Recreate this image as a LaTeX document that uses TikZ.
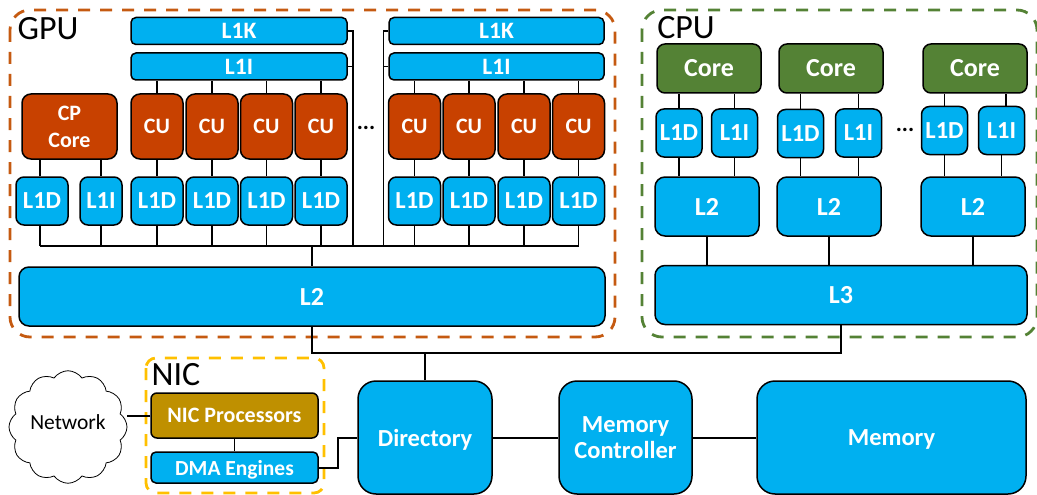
\documentclass[tikz,border=0pt]{standalone}
\usepackage{fontspec}
\setmainfont{Carlito}
\usepackage{tikz}
\usetikzlibrary{shapes.symbols}

\definecolor{cacheblue}{HTML}{00B0F0}
\definecolor{gpured}{HTML}{C84100}
\definecolor{gpuline}{HTML}{C55A11}
\definecolor{cpugreen}{HTML}{548235}
\definecolor{nicgold}{HTML}{BF9000}
\definecolor{nicline}{HTML}{FFC000}

\tikzset{
  unit/.style={draw=black,line width=1.5pt,text=white,inner sep=0pt,font=\bfseries,align=center},
  cache/.style={unit,fill=cacheblue},
  wide/.style={cache,rounded corners=5pt,minimum height=27pt,font=\bfseries\fontsize{23.5}{24}\selectfont},
  small/.style={cache,rounded corners=8pt,minimum height=48pt,font=\bfseries\fontsize{24.5}{26}\selectfont},
  level/.style={cache,rounded corners=10pt,minimum height=59pt,font=\bfseries\fontsize{26}{27}\selectfont},
  big/.style={cache,rounded corners=18pt,minimum height=113pt,text depth=0pt,font=\bfseries\fontsize{24.5}{26}\selectfont},
  cu/.style={unit,fill=gpured,rounded corners=9pt,minimum width=52pt,minimum height=65pt,font=\bfseries\fontsize{22}{27}\selectfont},
  core/.style={unit,fill=cpugreen,rounded corners=8pt,minimum width=104pt,minimum height=49pt,font=\bfseries\fontsize{26}{27}\selectfont},
  group/.style={line width=2.8pt,rounded corners=20pt,dash pattern=on 12pt off 10pt},
  title/.style={inner sep=0pt,font=\fontsize{34}{35}\selectfont},
  link/.style={black,line width=1.5pt},
  mainlink/.style={black,line width=2pt},
  dots/.style={inner sep=0pt,font=\bfseries\fontsize{23}{23}\selectfont}
}

\begin{document}
\begin{tikzpicture}[x=1pt,y=-1pt]
\useasboundingbox (0,0) rectangle (1037,495);

\draw[group,draw=gpuline] (10,10) rectangle (615,337);
\draw[group,draw=cpugreen] (642,10) rectangle (1037,337);
\draw[group,draw=nicline,rounded corners=10pt] (146,358) rectangle (324,493);

\node[title] (gputitle) at (48,29) {GPU};
\node[title] (cputitle) at (686,28) {CPU};
\node[title] (nictitle) at (176,375) {NIC};

% GPU, left group
\node[wide,minimum width=216pt] (l1k1) at (239,31) {L1K};
\node[wide,minimum width=216pt] (l1i1) at (239,66.5) {L1I};
\node[cu,minimum width=95pt] (cp) at (69.5,126.5) {CP\\Core};
\node[cu] (cu1) at (157,126.5) {CU};
\node[cu] (cu2) at (212,126.5) {CU};
\node[cu] (cu3) at (266.5,126.5) {CU};
\node[cu] (cu4) at (321,126.5) {CU};
\node[small,minimum width=52pt] (cpd) at (42,201) {L1D};
\node[small,minimum width=42pt] (cpi) at (101,201) {L1I};
\node[small,minimum width=52pt] (gd1) at (157,201) {L1D};
\node[small,minimum width=52pt] (gd2) at (212,201) {L1D};
\node[small,minimum width=52pt] (gd3) at (266.5,201) {L1D};
\node[small,minimum width=52pt] (gd4) at (321,201) {L1D};

\node[dots] (gpudots) at (366,128) {...};

% GPU, right group
\node[wide,minimum width=215pt] (l1k2) at (496.5,31) {L1K};
\node[wide,minimum width=215pt] (l1i2) at (496.5,66.5) {L1I};
\node[cu] (cu5) at (414.5,126.5) {CU};
\node[cu] (cu6) at (469,126.5) {CU};
\node[cu] (cu7) at (524,126.5) {CU};
\node[cu] (cu8) at (578.5,126.5) {CU};
\node[small,minimum width=52pt] (gd5) at (414.5,201) {L1D};
\node[small,minimum width=52pt] (gd6) at (469,201) {L1D};
\node[small,minimum width=52pt] (gd7) at (524,201) {L1D};
\node[small,minimum width=52pt] (gd8) at (578.5,201) {L1D};

\node[level,minimum width=586pt] (gl2) at (312,296.5) {L2};
\coordinate (bus) at (312,246);

\draw[link] (cu1.north) -- (cu1.north |- l1i1.south);
\draw[link] (cu2.north) -- (cu2.north |- l1i1.south);
\draw[link] (cu3.north) -- (cu3.north |- l1i1.south);
\draw[link] (cu4.north) -- (cu4.north |- l1i1.south);
\draw[link] (cu5.north) -- (cu5.north |- l1i2.south);
\draw[link] (cu6.north) -- (cu6.north |- l1i2.south);
\draw[link] (cu7.north) -- (cu7.north |- l1i2.south);
\draw[link] (cu8.north) -- (cu8.north |- l1i2.south);

\draw[link] (cu1) -- (gd1);
\draw[link] (cu2) -- (gd2);
\draw[link] (cu3) -- (gd3);
\draw[link] (cu4) -- (gd4);
\draw[link] (cu5) -- (gd5);
\draw[link] (cu6) -- (gd6);
\draw[link] (cu7) -- (gd7);
\draw[link] (cu8) -- (gd8);
\draw[link] ([xshift=-2pt]cpd.north) -- ([xshift=-2pt]cpd.north |- cp.south);
\draw[link] (cpi.north) -- (cpi.north |- cp.south);

\draw[link] ([xshift=-2pt]cpd.south) -- ([xshift=-2pt]cpd.south |- bus);
\draw[link] (cpi.south) -- (cpi.south |- bus);
\draw[link] (gd1.south) -- (gd1.south |- bus);
\draw[link] (gd2.south) -- (gd2.south |- bus);
\draw[link] (gd3.south) -- (gd3.south |- bus);
\draw[link] (gd4.south) -- (gd4.south |- bus);
\draw[link] (gd5.south) -- (gd5.south |- bus);
\draw[link] (gd6.south) -- (gd6.south |- bus);
\draw[link] (gd7.south) -- (gd7.south |- bus);
\draw[link] (gd8.south) -- (gd8.south |- bus);
\draw[mainlink] ([xshift=-2pt]cpd.south |- bus) -- (gd8.south |- bus);
\draw[mainlink] (bus) -- (gl2.north);

\draw[link] (l1k1.east) -- ++(5,0) |- (bus);
\draw[link] (l1i1.east) -- ++(5,0);
\draw[link] (l1k2.west) -- ++(-5,0) |- (bus);
\draw[link] (l1i2.west) -- ++(-5,0);

% CPU
\node[core] (core1) at (709,68.5) {Core};
\node[core] (core2) at (831,68.5) {Core};
\node[core] (core3) at (975,68.5) {Core};
\node[small,minimum width=46pt] (cd1) at (679,133) {L1D};
\node[small,minimum width=46pt] (ci1) at (734.5,133) {L1I};
\node[small,minimum width=46pt] (cd2) at (800.5,133.5) {L1D};
\node[small,minimum width=46pt] (ci2) at (858.5,133) {L1I};
\node[small,minimum width=46pt] (cd3) at (944.5,130.5) {L1D};
\node[small,minimum width=46pt] (ci3) at (1001.5,130.5) {L1I};
\node[dots] (cpudots) at (905,130) {...};
\node[level,minimum width=104pt] (cl1) at (707,206.5) {L2};
\node[level,minimum width=104pt] (cl2) at (829,206.5) {L2};
\node[level,minimum width=104pt] (cl3) at (973,206.5) {L2};
\node[level,minimum width=372pt] (l3) at (841,295) {L3};

\draw[link] (cd1.north) -- (cd1.north |- core1.south);
\draw[link] (ci1.north) -- (ci1.north |- core1.south);
\draw[link] (cd2.north) -- (cd2.north |- core2.south);
\draw[link] (ci2.north) -- (ci2.north |- core2.south);
\draw[link] (cd3.north) -- (cd3.north |- core3.south);
\draw[link] ([xshift=4.5pt]ci3.north) -- ([xshift=4.5pt]ci3.north |- core3.south);

\draw[link] (cd1.south) -- (cd1.south |- cl1.north);
\draw[link] (ci1.south) -- (ci1.south |- cl1.north);
\draw[link] (cd2.south) -- (cd2.south |- cl2.north);
\draw[link] (ci2.south) -- (ci2.south |- cl2.north);
\draw[link] (cd3.south) -- (cd3.south |- cl3.north);
\draw[link] (ci3.south) -- (ci3.south |- cl3.north);

\draw[link] (cl1.south) -- (cl1.south |- l3.north);
\draw[link] (cl2.south) -- (cl2.south |- l3.north);
\draw[link] (cl3.south) -- (cl3.south |- l3.north);

% memory side
\node[big,minimum width=134pt] (dir) at (425,437.5) {Directory};
\node[big,minimum width=133pt] (mc) at (625.5,437.5) {Memory\\Controller};
\node[big,minimum width=269pt] (mem) at (891.5,437.5) {Memory};
\coordinate (dirbus) at (425,353);

\draw[mainlink] (gl2.south) -- (gl2.south |- dirbus) -- (l3.south |- dirbus) -- (l3.south);
\draw[mainlink] (dir.north) -- (dirbus);
\draw[mainlink] (dir) -- (mc);
\draw[mainlink] (mc) -- (mem);

% NIC
\node[unit,fill=nicgold,rounded corners=6pt,minimum width=167pt,minimum height=45pt,font=\bfseries\fontsize{22}{23}\selectfont] (nicproc) at (234.5,415.5) {NIC Processors};
\node[cache,rounded corners=5pt,minimum width=167pt,minimum height=31pt,text depth=0pt,font=\bfseries\fontsize{21.5}{22}\selectfont] (dma) at (234.5,467.5) {DMA Engines};
\node[cloud,draw=black,line width=.8pt,cloud puffs=12,cloud puff arc=110,aspect=1.05,minimum width=118pt,minimum height=110pt,inner sep=0pt,text depth=10pt,font=\fontsize{21.5}{22}\selectfont] (network) at (68,427) {Network};

\draw[link] (nicproc) -- (dma);
\draw[mainlink] (nicproc.west) -- (nicproc.west -| network.east);
\draw[mainlink] (dma.east) -- (338,467.5) |- (dir.west);

\end{tikzpicture}
\end{document}
